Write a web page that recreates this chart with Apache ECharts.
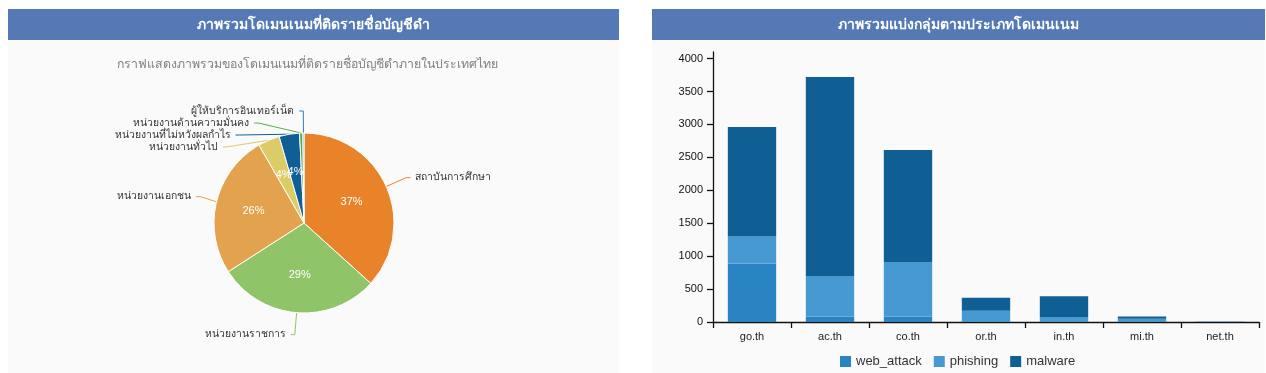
<!DOCTYPE html>
<html><head><meta charset="utf-8">
<script src="https://cdn.jsdelivr.net/npm/echarts@6/dist/echarts.min.js"></script>
<style>html,body{margin:0;padding:0;background:#fff;}#c{width:1266px;height:373px;}</style>
</head><body><div id="c"></div>
<script>
// ---- data ----
const pieNames = ['สถาบันการศึกษา','หน่วยงานราชการ','หน่วยงานเอกชน','หน่วยงานทั่วไป','หน่วยงานที่ไม่หวังผลกำไร','หน่วยงานด้านความมั่นคง','ผู้ให้บริการอินเทอร์เน็ต'];
const pieValues = [3720, 2960, 2610, 395, 370, 60, 20];
const pieColors = ['#e8832a','#90c469','#e3a34e','#dccc68','#0f5f96','#5aab46','#2a7fc0'];
const domains = ['go.th','ac.th','co.th','or.th','in.th','mi.th','net.th'];
const webAttack = [890, 85, 85, 10, 10, 10, 1];
const phishing = [410, 615, 825, 160, 60, 40, 0];
const malware = [1660, 3020, 1700, 200, 320, 35, 1];
const leftTitle = 'ภาพรวมโดเมนเนมที่ติดรายชื่อบัญชีดำ';
const leftSubtitle = 'กราฟแสดงภาพรวมของโดเมนเนมที่ติดรายชื่อบัญชีดำภายในประเทศไทย';
const rightTitle = 'ภาพรวมแบ่งกลุ่มตามประเภทโดเมนเนม';

const FONT = 'Tahoma, "Liberation Sans", Arial, sans-serif';
const LATIN = '"Liberation Sans", Arial, sans-serif';
const chart = echarts.init(document.getElementById('c'), null, {renderer:'canvas'});
const pieData = pieNames.map((n,i)=>({name:n, value:pieValues[i], itemStyle:{color:pieColors[i]}}));

chart.setOption({
  animation:false,
  textStyle:{fontFamily:FONT},
  graphic:[
    {type:'rect', shape:{x:8,y:40,width:611,height:333}, style:{fill:'#fafafa'}, z:-10},
    {type:'rect', shape:{x:8,y:9,width:611,height:31}, style:{fill:'#5479b4'}, z:-10},
    {type:'rect', shape:{x:652,y:40,width:613,height:333}, style:{fill:'#fafafa'}, z:-10},
    {type:'rect', shape:{x:652,y:9,width:613,height:31}, style:{fill:'#5479b4'}, z:-10},
    {type:'text', x:313, y:25, style:{text:leftTitle, fill:'#fff', font:'bold 14px '+FONT, textAlign:'center', textVerticalAlign:'middle'}},
    {type:'text', x:958, y:25, style:{text:rightTitle, fill:'#fff', font:'bold 14px '+FONT, textAlign:'center', textVerticalAlign:'middle'}},
    {type:'text', x:307, y:65, style:{text:leftSubtitle, fill:'#808080', font:'12.3px '+FONT, textAlign:'center', textVerticalAlign:'middle'}}
  ],
  legend:{
    left:835, top:350, itemWidth:11, itemHeight:11, itemGap:12, icon:'rect',
    textStyle:{fontSize:13, color:'#333', fontFamily:LATIN},
    data:['web_attack','phishing','malware']
  },
  grid:{left:713, right:7, top:52, bottom:51, containLabel:false},
  xAxis:{
    type:'category', data:domains,
    axisLine:{lineStyle:{color:'#111', width:1.3}},
    axisTick:{show:true, length:6, lineStyle:{color:'#111', width:1.3}},
    axisLabel:{fontSize:11, color:'#222', margin:9, fontFamily:LATIN}
  },
  yAxis:{
    type:'value', min:0, max:4100, interval:500,
    splitLine:{show:false},
    axisLine:{show:true, lineStyle:{color:'#111', width:1.3}},
    axisTick:{show:true, length:6, lineStyle:{color:'#111', width:1.3}},
    axisLabel:{fontSize:11, color:'#111', margin:10, showMaxLabel:false, fontFamily:LATIN,
      formatter:v => String(v)}
  },
  series:[
    {name:'web_attack', type:'bar', stack:'s', data:webAttack, barCategoryGap:'38%', itemStyle:{color:'#2a84c1'}},
    {name:'phishing', type:'bar', stack:'s', data:phishing, itemStyle:{color:'#4799d1'}},
    {name:'malware', type:'bar', stack:'s', data:malware, itemStyle:{color:'#0f5f94'}},
    {
      type:'pie', center:[304,223], radius:[0,90], startAngle:90, clockwise:true,
      data:pieData,
      itemStyle:{borderColor:'#fff', borderWidth:1},
      label:{show:true, position:'outside', formatter:'{b}', fontSize:10.4, color:'#333'},
      labelLine:{show:true, length:22, length2:4, lineStyle:{width:1}},
      avoidLabelOverlap:true
    },
    {
      type:'pie', center:[304,223], radius:[8,90], startAngle:90, clockwise:true, silent:true,
      data:pieData.map(d=>({name:d.name, value:d.value})),
      itemStyle:{color:'rgba(0,0,0,0)', borderWidth:0},
      labelLayout:{hideOverlap:false},
      avoidLabelOverlap:false,
      label:{show:true, position:'inside', fontSize:11, color:'#fff', fontFamily:LATIN,
        formatter:p => p.percent >= 2 ? Math.round(p.percent)+'%' : ''},
      labelLine:{show:false}
    }
  ]
});
</script></body></html>
